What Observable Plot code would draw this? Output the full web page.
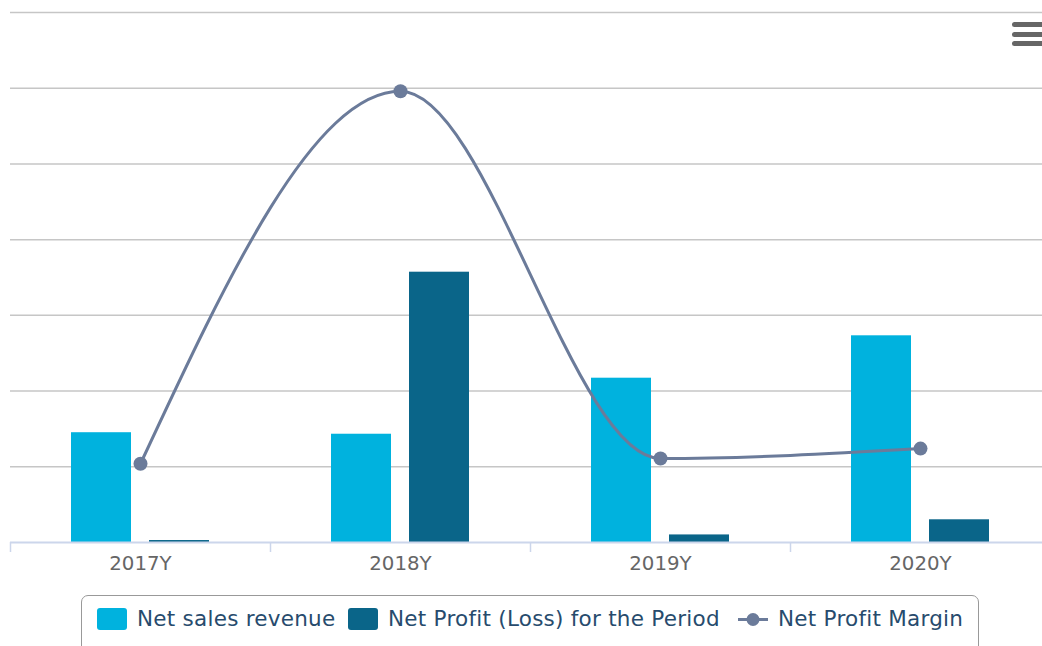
<!DOCTYPE html>
<html>
<head>
<meta charset="utf-8">
<script src="https://cdn.jsdelivr.net/npm/d3@7"></script>
<script src="https://cdn.jsdelivr.net/npm/@observablehq/plot@0.6"></script>
<style>
  html, body { margin: 0; padding: 0; background: #fff; overflow: hidden; }
  body { width: 1042px; height: 646px; position: relative; font-family: "DejaVu Sans", sans-serif; }
  #chart { position: absolute; left: 0; top: 0; }
  .menu { position: absolute; left: 1012px; width: 34px; height: 5px; background: #666; border-radius: 2.5px; }
  #legend { position: absolute; left: 81px; top: 595px; width: 898px; height: 70px; border: 1.5px solid #999; border-radius: 7px; box-sizing: border-box; }
  .item { position: absolute; top: 0; height: 24px; font-size: 21.5px; letter-spacing: 0.25px; color: #274b6d; white-space: nowrap; line-height: 24px; }
  .sw { position: absolute; width: 30px; height: 22px; border-radius: 3px; }
</style>
</head>
<body>
<div id="chart"></div>
<div class="menu" style="top:22px"></div>
<div class="menu" style="top:32px"></div>
<div class="menu" style="top:41px"></div>
<div id="legend"></div>
<script>
// ---- data ----
const years = ["2017Y", "2018Y", "2019Y", "2020Y"];
const netSales = [145, 143, 217, 273];          // primary axis units
const netProfit = [2.6, 357, 10, 30];           // primary axis units
const netMargin = [10.4, 59.6, 11.1, 12.4];     // secondary axis (%)
const primaryMax = 700;
const secondaryMax = 70;
const gridTicks = [100, 200, 300, 400, 500, 600, 700];
const seriesNames = ["Net sales revenue", "Net Profit (Loss) for the Period", "Net Profit Margin"];
const colors = ["#00b2de", "#0a6589", "#6b7b9a"];

const salesData = years.map((year, i) => ({year, value: netSales[i]}));
const profitData = years.map((year, i) => ({year, value: netProfit[i]}));
const marginData = years.map((year, i) => ({year, value: netMargin[i] * primaryMax / secondaryMax}));

const chart = Plot.plot({
  width: 1042,
  height: 590,
  marginLeft: 10,
  marginRight: 0,
  marginTop: 12,
  marginBottom: 48,
  style: {fontFamily: "DejaVu Sans, sans-serif", background: "transparent"},
  x: {type: "band", domain: years, range: [10, 1050], padding: 0, axis: null},
  y: {domain: [0, primaryMax], axis: null},
  marks: [
    Plot.ruleY(gridTicks, {stroke: "#c6c6c6", strokeWidth: 1.5}),
    Plot.barY(salesData, {x: "year", y: "value", fill: colors[0], insetLeft: 61, insetRight: 139}),
    Plot.barY(profitData, {x: "year", y: "value", fill: colors[1], insetLeft: 139, insetRight: 61}),
    Plot.ruleY([0], {stroke: "#ccd6eb", strokeWidth: 2}),
    Plot.axisX({tickSize: 10, text: null, label: null, dx: -130, stroke: "#ccd6eb", strokeWidth: 1.5}),
    Plot.axisX({tickSize: 0, tickPadding: 13, label: null, fontSize: 19.8, fill: "#666"}),
    Plot.line(marginData, {x: "year", y: "value", curve: "monotone-x", stroke: colors[2], strokeWidth: 3}),
    Plot.dot(marginData, {x: "year", y: "value", r: 7, fill: colors[2]})
  ]
});
document.getElementById("chart").appendChild(chart);

// ---- legend ----
const legend = document.getElementById("legend");
const itemLeft = [15, 266, 656]; // relative to legend box
itemLeft.forEach((left, i) => {
  const it = document.createElement("div");
  it.className = "item";
  it.style.left = left + "px";
  it.style.top = "11px";
  let sym;
  if (i < 2) {
    sym = `<span class="sw" style="left:0;top:1px;background:${colors[i]}"></span>`;
  } else {
    sym = `<svg width="30" height="24" style="position:absolute;left:0;top:0">
      <line x1="0" y1="12.5" x2="30" y2="12.5" stroke="${colors[2]}" stroke-width="3"/>
      <circle cx="15" cy="12.5" r="6.5" fill="${colors[2]}"/></svg>`;
  }
  it.innerHTML = sym + `<span style="position:absolute;left:40px;top:0">${seriesNames[i]}</span>`;
  legend.appendChild(it);
});
</script>
</body>
</html>
